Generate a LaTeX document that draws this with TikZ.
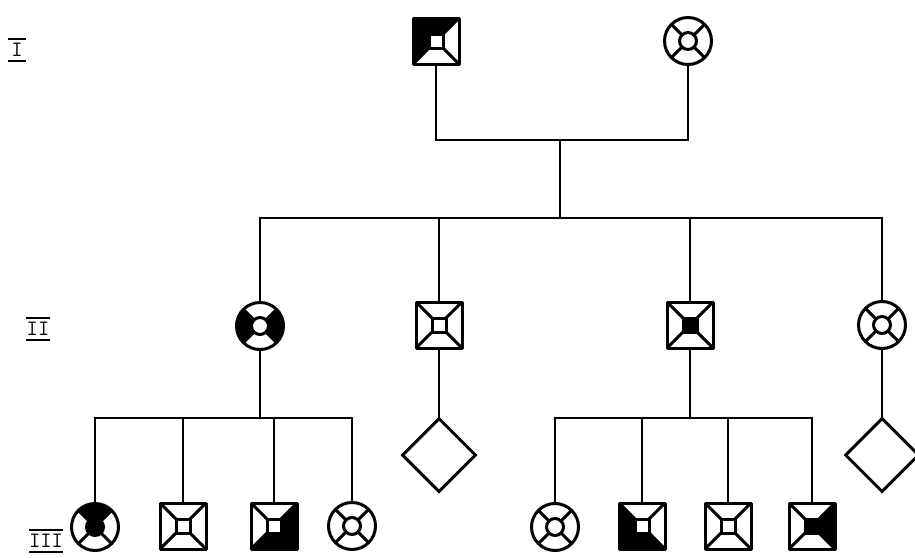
\documentclass[tikz,border=0pt]{standalone}
\usepackage{fontspec}
\usetikzlibrary{shapes.geometric}
\tikzset{
  conn/.style={line width=2.6pt, line cap=round},
  sqnode/.style={rectangle, minimum size=48pt, inner sep=0pt},
  cinode/.style={circle, minimum size=49pt, inner sep=0pt},
  dianode/.style={diamond, draw, line width=3pt, minimum width=74pt, minimum height=74pt, inner sep=0pt},
  symline/.style={line width=3pt, line join=round},
  gen/.style={font=\fontsize{22}{22}\selectfont\ttfamily, inner sep=0pt},
  genbar/.style={line width=2.4pt}
}
% square symbol: #1 name, #2 top, #3 right, #4 bottom, #5 left, #6 center
\newcommand\sqsym[6]{%
  \begin{scope}[shift={(#1.center)}]
    \def\a{23}\def\b{7}
    \fill[#2] (-\a,-\a)--(\a,-\a)--(\b,-\b)--(-\b,-\b)--cycle;
    \fill[#3] (\a,-\a)--(\a,\a)--(\b,\b)--(\b,-\b)--cycle;
    \fill[#4] (\a,\a)--(-\a,\a)--(-\b,\b)--(\b,\b)--cycle;
    \fill[#5] (-\a,\a)--(-\a,-\a)--(-\b,-\b)--(-\b,\b)--cycle;
    \fill[#6] (-\b,-\b) rectangle (\b,\b);
    \draw[symline] (-\b,-\b) rectangle (\b,\b);
    \draw[symline] (-\a,-\a)--(-\b,-\b) (\a,-\a)--(\b,-\b) (\a,\a)--(\b,\b) (-\a,\a)--(-\b,\b);
    \draw[symline] (-\a,-\a) rectangle (\a,\a);
  \end{scope}}
% circle symbol: #1 name, #2 top, #3 right, #4 bottom, #5 left, #6 center
\newcommand\cisym[6]{%
  \begin{scope}[shift={(#1.center)}]
    \def\R{23.5}\def\r{8.5}
    \fill[#2] (225:\R) arc (225:315:\R) -- (315:\r) arc (315:225:\r) -- cycle;
    \fill[#3] (-45:\R) arc (-45:45:\R) -- (45:\r) arc (45:-45:\r) -- cycle;
    \fill[#4] (45:\R) arc (45:135:\R) -- (135:\r) arc (135:45:\r) -- cycle;
    \fill[#5] (135:\R) arc (135:225:\R) -- (225:\r) arc (225:135:\r) -- cycle;
    \fill[#6] (0,0) circle (\r);
    \draw[symline] (0,0) circle (\r);
    \foreach \ang in {45,135,225,315} \draw[symline] (\ang:\r) -- (\ang:\R);
    \draw[symline] (0,0) circle (\R);
  \end{scope}}
\begin{document}
\begin{tikzpicture}[x=1pt, y=-1pt]
\useasboundingbox[fill=white] (0,0) rectangle (915,557);

% generation labels
\node[gen] (gI) at (17,50) {I};
\node[gen] (gII) at (38,329) {II};
\node[gen] (gIII) at (46,541) {III};
\draw[genbar] ([xshift=-3pt,yshift=4pt]gI.north west) -- ([xshift=3pt,yshift=4pt]gI.north east);
\draw[genbar] ([xshift=-3pt,yshift=-4pt]gI.south west) -- ([xshift=3pt,yshift=-4pt]gI.south east);
\draw[genbar] ([yshift=4pt]gII.north west) -- ([yshift=4pt]gII.north east);
\draw[genbar] ([yshift=-4pt]gII.south west) -- ([yshift=-4pt]gII.south east);
\draw[genbar] ([yshift=4pt]gIII.north west) -- ([yshift=4pt]gIII.north east);
\draw[genbar] ([yshift=-4pt]gIII.south west) -- ([yshift=-4pt]gIII.south east);

% generation I
\node[sqnode] (f) at (436,41) {};
\node[cinode] (m) at (688,41) {};
\coordinate (fj) at (436,140);
\coordinate (mj) at (688,140);
\coordinate (cj) at (560,140);
\coordinate (sj) at (560,218);
\coordinate (sL) at (260,218);
\coordinate (s2) at (439,218);
\coordinate (s3) at (690,218);
\coordinate (sR) at (882,218);

% generation II
\node[cinode] (a) at (260,326) {};
\node[sqnode] (b) at (439,325) {};
\node[sqnode] (c) at (690,325) {};
\node[cinode] (d) at (882,325) {};

\node[dianode] (bd) at (439,455) {};
\node[dianode] (dd) at (882,455) {};

% generation III left
\coordinate (aj) at (260,418);
\coordinate (l1) at (95,418);
\coordinate (l2) at (183,418);
\coordinate (l3) at (274,418);
\coordinate (l4) at (352,418);
\node[cinode] (p1) at (95,527) {};
\node[sqnode] (p2) at (183,526) {};
\node[sqnode] (p3) at (274,526) {};
\node[cinode] (p4) at (352,526) {};

% generation III right
\coordinate (cj2) at (690,418);
\coordinate (r1) at (555,418);
\coordinate (r2) at (642,418);
\coordinate (r3) at (728,418);
\coordinate (r4) at (812,418);
\node[cinode] (q1) at (555,527) {};
\node[sqnode] (q2) at (642,526) {};
\node[sqnode] (q3) at (728,526) {};
\node[sqnode] (q4) at (812,526) {};

% connectors
\draw[conn] (f.south) -- (fj) -- (mj) -- (m.south);
\draw[conn] (cj) -- (sj);
\draw[conn] (sL) -- (sR);
\draw[conn] (sL) -- (a.north);
\draw[conn] (s2) -- (b.north);
\draw[conn] (s3) -- (c.north);
\draw[conn] (sR) -- (d.north);
\draw[conn] (b.south) -- (bd.north);
\draw[conn] (d.south) -- (dd.north);
\draw[conn] (a.south) -- (aj);
\draw[conn] (l1) -- (l4);
\draw[conn] (l1) -- (p1.north);
\draw[conn] (l2) -- (p2.north);
\draw[conn] (l3) -- (p3.north);
\draw[conn] (l4) -- (p4.north);
\draw[conn] (c.south) -- (cj2);
\draw[conn] (r1) -- (r4);
\draw[conn] (r1) -- (q1.north);
\draw[conn] (r2) -- (q2.north);
\draw[conn] (r3) -- (q3.north);
\draw[conn] (r4) -- (q4.north);

% symbols
\sqsym{f}{black}{white}{white}{black}{white}
\cisym{m}{white}{white}{white}{white}{white}
\cisym{a}{white}{black}{white}{black}{white}
\sqsym{b}{white}{white}{white}{white}{white}
\sqsym{c}{white}{white}{white}{white}{black}
\cisym{d}{white}{white}{white}{white}{white}
\cisym{p1}{black}{white}{white}{white}{black}
\sqsym{p2}{white}{white}{white}{white}{white}
\sqsym{p3}{white}{black}{black}{white}{white}
\cisym{p4}{white}{white}{white}{white}{white}
\cisym{q1}{white}{white}{white}{white}{white}
\sqsym{q2}{white}{white}{black}{black}{white}
\sqsym{q3}{white}{white}{white}{white}{white}
\sqsym{q4}{white}{black}{white}{white}{black}
\end{tikzpicture}
\end{document}
